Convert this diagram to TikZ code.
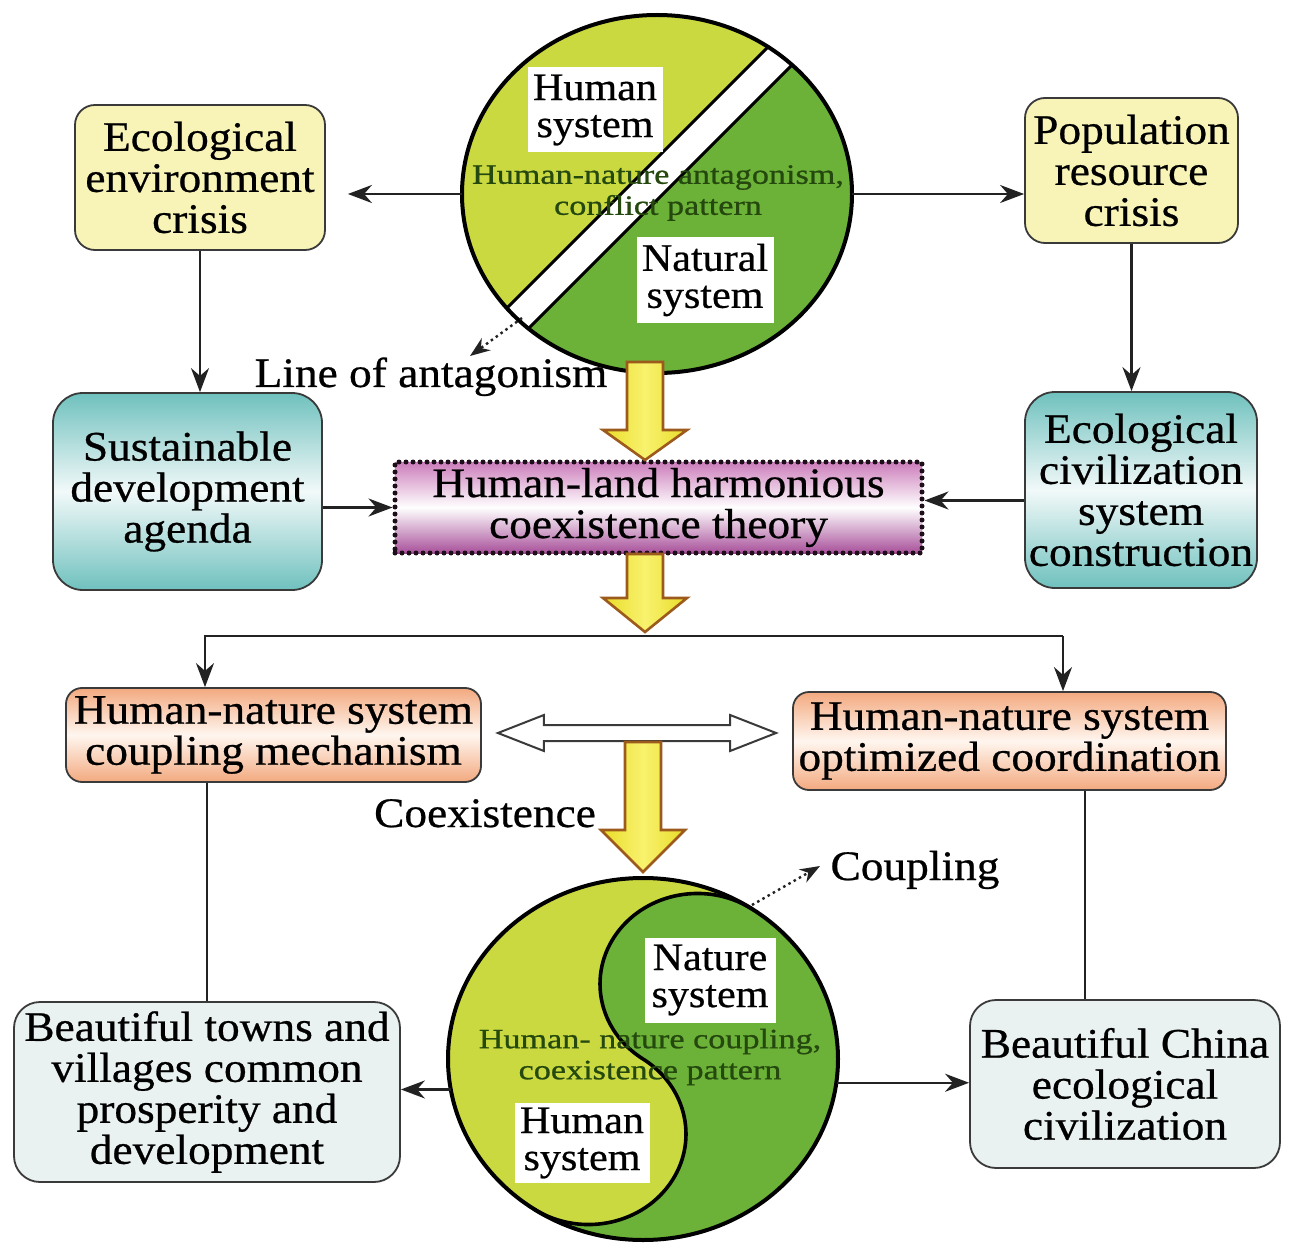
\documentclass[tikz,border=0pt]{standalone}
\usepackage{fontspec}
\setmainfont{Liberation Serif}[FakeStretch=1.08, FakeBold=0.6]
\newfontfamily\smallfont{Liberation Serif}[FakeStretch=1.22, FakeBold=0.8]
\usetikzlibrary{arrows.meta,shapes.geometric,calc}
\definecolor{lightg}{HTML}{CBD940}
\definecolor{darkg}{HTML}{6CB238}
\definecolor{paley}{HTML}{F8F4B8}
\definecolor{boxdraw}{HTML}{3A3A3A}
\definecolor{linec}{HTML}{222222}
\definecolor{tealc}{HTML}{6FC1BE}
\definecolor{tealm}{HTML}{F2F9F9}
\definecolor{pinkt}{HTML}{CC7DBB}
\definecolor{pinkb}{HTML}{A8509A}
\definecolor{orangec}{HTML}{F3A97F}
\definecolor{orangem}{HTML}{FFF6EF}
\definecolor{greyb}{HTML}{E9F1F1}
\definecolor{yellowe}{HTML}{E9DC28}
\definecolor{yellowm}{HTML}{F8F26E}
\definecolor{yellowd}{HTML}{9C5A1C}
\definecolor{smalltxt}{HTML}{24480E}
\definecolor{dotc}{HTML}{1E0E1A}
\tikzset{
  box/.style={draw=boxdraw, line width=1.8pt, rounded corners=20pt, align=center, inner sep=0pt},
  ybox/.style={box, fill=paley},
  tbox/.style={box, rounded corners=30pt, top color=tealc, bottom color=tealc, middle color=tealm},
  pbox/.style={align=center, inner sep=0pt, draw=dotc, line width=5pt, line cap=round,
     dash pattern=on 0pt off 7pt, top color=pinkt, bottom color=pinkb, middle color=white},
  obox/.style={box, rounded corners=16pt, top color=orangec, bottom color=orangec, middle color=orangem},
  gbox/.style={box, rounded corners=26pt, fill=greyb},
  lbl/.style={fill=white, inner sep=0pt, align=center, font=\fontsize{39}{37}\selectfont},
  stxt/.style={align=center, inner sep=0pt, text=smalltxt, font=\smallfont\fontsize{28}{31}\selectfont},
  conn/.style={draw=linec, line width=2.2pt, -{Stealth[length=24pt, width=18pt]}},
  plain/.style={draw=linec, line width=2.2pt},
  dotarr/.style={draw=linec, line width=2.4pt, dash pattern=on 2.5pt off 3.5pt, -{Stealth[length=20pt, width=15pt]}},
  yarrowsty/.style={draw=yellowd, line width=2.6pt, line join=miter, left color=yellowe, right color=yellowe, middle color=yellowm},
}
\newcommand\yarr[4]{%
  \filldraw[yarrowsty] ({#1-18},#2) -- ({#1+18},#2) -- ({#1+18},#3) -- ({#1+42},#3) -- (#1,#4) -- ({#1-42},#3) -- ({#1-18},#3) -- cycle;}
\begin{document}
\begin{tikzpicture}[x=1pt, y=-1pt, font=\fontsize{42}{41}\selectfont]
\useasboundingbox[fill=white] (0,0) rectangle (1291,1257);

% ---------- top circle ----------
\node[ellipse, fill=darkg, minimum width=390pt, minimum height=358pt, inner sep=0pt] (top) at (657,194) {};
\begin{scope}
  \clip (657,194) ellipse [x radius=195, y radius=179];
  \fill[lightg] (400,-10) -- (825,-10) -- (415,400) -- (400,400) -- cycle;
  \fill[white] (825,-10) -- (867,-10) -- (457,400) -- (415,400) -- cycle;
  \draw[line width=3pt] (825,-10) -- (415,400) (867,-10) -- (457,400);
\end{scope}
\draw[line width=4pt] (top.center) ellipse [x radius=195, y radius=179];
\node[lbl, minimum width=135pt, minimum height=85pt] (hs1) at (595,110) {Human\\system};
\node[lbl, minimum width=137pt, minimum height=86pt] (ns1) at (705,280) {Natural\\system};
\node[stxt] (ant) at (658,193) {Human-nature antagonism,\\conflict pattern};

% ---------- bottom circle ----------
\node[ellipse, fill=darkg, minimum width=390pt, minimum height=362pt, inner sep=0pt] (bot) at (643,1059) {};
\fill[lightg] (bot.center) ++(-56:195 and 181)
   arc[start angle=-56, end angle=-236, x radius=195, y radius=181]
   arc[start angle=124, end angle=-56, x radius=97.5, y radius=90.5]
   arc[start angle=124, end angle=304, x radius=97.5, y radius=90.5] -- cycle;
\draw[line width=3.6pt] (bot.center) ++(124:195 and 181)
   arc[start angle=124, end angle=-56, x radius=97.5, y radius=90.5]
   arc[start angle=124, end angle=304, x radius=97.5, y radius=90.5];
\draw[line width=4pt] (bot.center) ellipse [x radius=195, y radius=181];
\node[lbl, minimum width=131pt, minimum height=85pt] (ns2) at (710,980) {Nature\\system};
\node[lbl, minimum width=135pt, minimum height=80pt] (hs2) at (582,1143) {Human\\system};
\node[stxt] (cpl) at (650,1057) {Human- nature coupling,\\coexistence pattern};

% ---------- boxes ----------
\node[ybox, minimum width=250pt, minimum height=145pt] (ee) at (200,177.5) {Ecological\\environment\\crisis};
\node[ybox, minimum width=213pt, minimum height=145pt] (pr) at (1131.5,170.5) {Population\\resource\\crisis};
\node[tbox, minimum width=269pt, minimum height=197pt] (sd) at (187.5,491.5) {Sustainable\\development\\agenda};
\node[tbox, minimum width=232pt, minimum height=196pt] (ec) at (1141,490) {Ecological\\civilization\\system\\construction};
\node[pbox, minimum width=527pt, minimum height=91pt] (hl) at (658.5,507.5) {Human-land harmonious\\coexistence theory};
\node[obox, minimum width=415pt, minimum height=94pt] (cm) at (273.5,735) {Human-nature system\\coupling mechanism};
\node[obox, minimum width=433pt, minimum height=98pt] (oc) at (1009.5,741) {Human-nature system\\optimized coordination};
\node[gbox, minimum width=386pt, minimum height=180pt] (bt) at (207,1092) {Beautiful towns and\\villages common\\prosperity and\\development};
\node[gbox, minimum width=310pt, minimum height=168pt] (bc) at (1125,1084) {Beautiful China\\ecological\\civilization};

% ---------- free labels ----------
\node[anchor=base, inner sep=0pt] (la) at (431,387) {Line of antagonism};
\node[anchor=base, inner sep=0pt] (cx) at (485,827) {Coexistence};
\node[anchor=base, inner sep=0pt] (cp) at (915,880) {Coupling};

% ---------- connectors ----------
\draw[conn, shorten >=22pt] (top.west) -- (top.west -| ee.east);
\draw[conn] (top.east) -- (top.east -| pr.west);
\draw[conn] (ee.south) -- (ee.south |- sd.north);
\draw[conn] (pr.south) -- (pr.south |- ec.north);
\draw[conn] (hl.west -| sd.east) -- (hl.west);
\draw[conn] ([yshift=7pt]hl.east -| ec.west) -- ([yshift=7pt]hl.east);

\coordinate (jl) at (205,636);
\coordinate (jr) at (1063,636);
\draw[conn] (jr) -- (jl) -- (jl |- cm.north);
\draw[conn] (jr) -- (jr |- oc.north);

\draw[plain] (bt.north |- cm.south) -- (bt.north);
\draw[plain] ([xshift=-40pt]bc.north |- oc.south) -- ([xshift=-40pt]bc.north);

\draw[conn] (bot.189) -- (bot.189 -| bt.east);
\draw[conn] (bot.353) -- (bot.353 -| bc.west);

% hollow double arrow
\coordinate (ha) at ($(cm.east)+(16,-2)$);
\coordinate (hb) at ($(ha -| oc.west)+(-16,0)$);
\filldraw[fill=white, draw=boxdraw, line width=2pt, line join=miter]
  (ha) -- ($(ha)+(46,-18)$) -- ($(ha)+(46,-8)$) -- ($(hb)+(-46,-8)$) -- ($(hb)+(-46,-18)$) -- (hb)
  -- ($(hb)+(-46,18)$) -- ($(hb)+(-46,8)$) -- ($(ha)+(46,8)$) -- ($(ha)+(46,18)$) -- cycle;

% yellow block arrows
\yarr{645}{362}{430}{460}
\yarr{645}{554}{598}{632}
\yarr{643}{742}{830}{872}

% dotted arrows
\coordinate (antS) at (522,318);
\coordinate (antT) at (470,356);
\draw[dotarr] (antS) -- (antT);
\coordinate (cpS) at (752,905);
\coordinate (cpT) at (820,866);
\draw[dotarr] (cpS) -- (cpT);
\end{tikzpicture}
\end{document}
